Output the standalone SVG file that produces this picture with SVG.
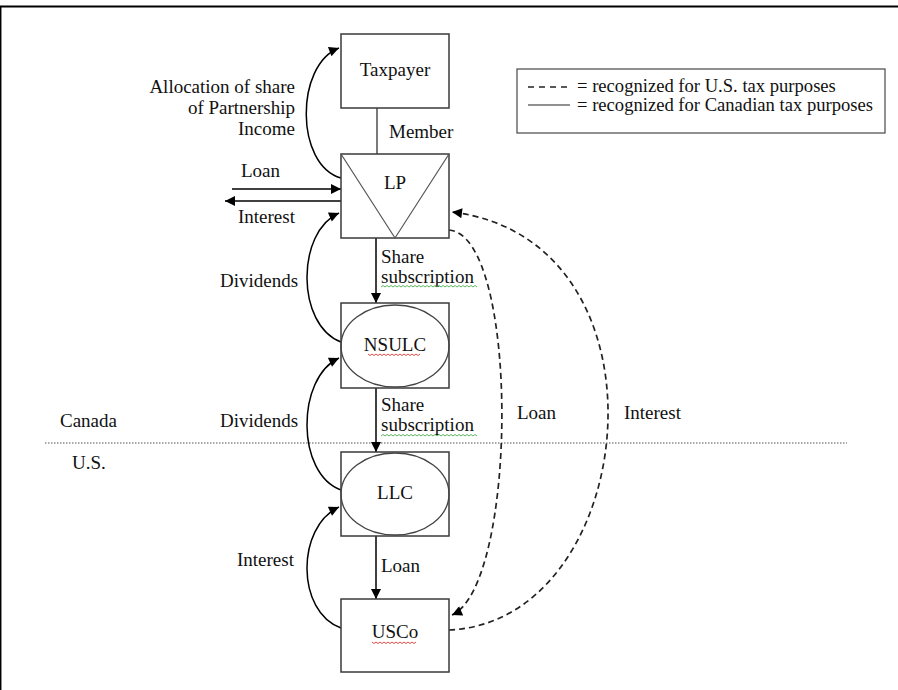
<svg xmlns="http://www.w3.org/2000/svg" width="898" height="690" viewBox="0 0 898 690">
<defs>
<marker id="ah" viewBox="0 0 10 10" refX="10" refY="5" markerWidth="11" markerHeight="10" markerUnits="userSpaceOnUse" orient="auto">
<path d="M0,0 L10,5 L0,10 z" fill="#000"/>
</marker>
<style>
text{font-family:"Liberation Serif","Times New Roman",serif;font-size:19px;fill:#111}
.lg{font-size:18.6px}
.box{fill:#fff;stroke:#3a3a3a;stroke-width:1.5}
.ell{fill:none;stroke:#444;stroke-width:1.3}
.solid{fill:none;stroke:#000;stroke-width:1.5}
.dash{fill:none;stroke:#222;stroke-width:1.7;stroke-dasharray:6,4}
.wg{fill:none;stroke:#4caf50;stroke-width:0.9}
.wr{fill:none;stroke:#e53935;stroke-width:0.9}
</style>
</defs>
<rect width="898" height="690" fill="#fff"/>
<g id="frame">
<line x1="0" y1="6.5" x2="898" y2="6.5" stroke="#000" stroke-width="2.2"/>
<line x1="0.7" y1="6" x2="0.7" y2="690" stroke="#000" stroke-width="1.5"/>
</g>
<g id="border-line">
<line x1="45" y1="443" x2="847" y2="443" stroke="#555" stroke-width="1.2" stroke-dasharray="1.5,1.5"/>
<text x="60" y="427">Canada</text>
<text x="72" y="469">U.S.</text>
</g>
<g id="legend">
<rect x="517" y="69" width="368" height="64" fill="#fff" stroke="#555" stroke-width="1.3"/>
<line x1="528" y1="87" x2="568" y2="87" stroke="#222" stroke-width="1.3" stroke-dasharray="6,5"/>
<line x1="528" y1="105" x2="570" y2="105" stroke="#222" stroke-width="1.2"/>
<text class="lg" x="577" y="92">= recognized for U.S. tax purposes</text>
<text class="lg" x="577" y="111">= recognized for Canadian tax purposes</text>
</g>
<g id="connectors">
<line x1="377" y1="108" x2="377" y2="154" stroke="#333" stroke-width="1.3"/>
<path class="solid" d="M341,178 C295,165 295,65 339,48" marker-end="url(#ah)"/>
<line class="solid" x1="232" y1="189" x2="341" y2="189" marker-end="url(#ah)"/>
<line class="solid" x1="341" y1="201" x2="225" y2="201" marker-end="url(#ah)"/>
<path class="solid" d="M341,342 C296,325 296,232 339,213" marker-end="url(#ah)"/>
<line class="solid" x1="376" y1="238" x2="376" y2="303" marker-end="url(#ah)"/>
<path class="solid" d="M341,490 C296,474 296,378 339,358" marker-end="url(#ah)"/>
<line class="solid" x1="376" y1="388" x2="376" y2="452" marker-end="url(#ah)"/>
<line class="solid" x1="376" y1="536" x2="376" y2="599" marker-end="url(#ah)"/>
<path class="solid" d="M341,628 C296,612 296,527 339,507" marker-end="url(#ah)"/>
<path class="dash" d="M449,230 C520,236 518,585 452,615" marker-end="url(#ah)"/>
<path class="dash" d="M449,630 C640,622 680,240 452,212" marker-end="url(#ah)"/>
</g>
<g id="connector-labels">
<text x="295" y="93" text-anchor="end">Allocation of share</text>
<text x="295" y="114" text-anchor="end">of Partnership</text>
<text x="295" y="135" text-anchor="end">Income</text>
<text x="389" y="138">Member</text>
<text x="241" y="177">Loan</text>
<text x="238" y="223">Interest</text>
<text x="220" y="287">Dividends</text>
<text x="381" y="263">Share</text>
<text x="381" y="283">subscription</text>
<path class="wg" d="M381,287 l2,-1.5 l2,1.5 l2,-1.5 l2,1.5 l2,-1.5 l2,1.5 l2,-1.5 l2,1.5 l2,-1.5 l2,1.5 l2,-1.5 l2,1.5 l2,-1.5 l2,1.5 l2,-1.5 l2,1.5 l2,-1.5 l2,1.5 l2,-1.5 l2,1.5 l2,-1.5 l2,1.5 l2,-1.5 l2,1.5 l2,-1.5 l2,1.5 l2,-1.5 l2,1.5 l2,-1.5 l2,1.5 l2,-1.5 l2,1.5 l2,-1.5 l2,1.5 l2,-1.5 l2,1.5 l2,-1.5 l2,1.5 l2,-1.5 l2,1.5 l2,-1.5 l2,1.5 l2,-1.5 l2,1.5 l2,-1.5 l2,1.5 l2,-1.5 l2,1.5"/>
<text x="220" y="427">Dividends</text>
<text x="381" y="411">Share</text>
<text x="381" y="431">subscription</text>
<path class="wg" d="M381,436 l2,-1.5 l2,1.5 l2,-1.5 l2,1.5 l2,-1.5 l2,1.5 l2,-1.5 l2,1.5 l2,-1.5 l2,1.5 l2,-1.5 l2,1.5 l2,-1.5 l2,1.5 l2,-1.5 l2,1.5 l2,-1.5 l2,1.5 l2,-1.5 l2,1.5 l2,-1.5 l2,1.5 l2,-1.5 l2,1.5 l2,-1.5 l2,1.5 l2,-1.5 l2,1.5 l2,-1.5 l2,1.5 l2,-1.5 l2,1.5 l2,-1.5 l2,1.5 l2,-1.5 l2,1.5 l2,-1.5 l2,1.5 l2,-1.5 l2,1.5 l2,-1.5 l2,1.5 l2,-1.5 l2,1.5 l2,-1.5 l2,1.5 l2,-1.5 l2,1.5"/>
<text x="381" y="572">Loan</text>
<text x="237" y="566">Interest</text>
<text x="517" y="419">Loan</text>
<text x="624" y="419">Interest</text>
</g>
<g id="taxpayer">
<rect class="box" x="341" y="34" width="108" height="74"/>
<text x="395" y="76" text-anchor="middle">Taxpayer</text>
</g>
<g id="lp">
<rect class="box" x="341" y="154" width="108" height="84"/>
<path d="M341,154 L395,238 L449,154" fill="none" stroke="#555" stroke-width="1.2"/>
<text x="395" y="189" text-anchor="middle">LP</text>
</g>
<g id="nsulc">
<rect class="box" x="341" y="303" width="108" height="85"/>
<ellipse class="ell" cx="395" cy="346" rx="54" ry="41"/>
<text x="395" y="351" text-anchor="middle">NSULC</text>
<path class="wr" d="M368,354 l2,1.5 l2,-1.5 l2,1.5 l2,-1.5 l2,1.5 l2,-1.5 l2,1.5 l2,-1.5 l2,1.5 l2,-1.5 l2,1.5 l2,-1.5 l2,1.5 l2,-1.5 l2,1.5 l2,-1.5 l2,1.5 l2,-1.5 l2,1.5 l2,-1.5 l2,1.5 l2,-1.5 l2,1.5 l2,-1.5 l2,1.5 l2,-1.5"/>
</g>
<g id="llc">
<rect class="box" x="341" y="452" width="108" height="84"/>
<ellipse class="ell" cx="395" cy="494" rx="54" ry="41"/>
<text x="395" y="499" text-anchor="middle">LLC</text>
</g>
<g id="usco">
<rect class="box" x="341" y="599" width="108" height="73"/>
<text x="395" y="638" text-anchor="middle">USCo</text>
<path class="wr" d="M372,642 l2,1.5 l2,-1.5 l2,1.5 l2,-1.5 l2,1.5 l2,-1.5 l2,1.5 l2,-1.5 l2,1.5 l2,-1.5 l2,1.5 l2,-1.5 l2,1.5 l2,-1.5 l2,1.5 l2,-1.5 l2,1.5 l2,-1.5 l2,1.5 l2,-1.5 l2,1.5 l2,-1.5"/>
</g>
</svg>
